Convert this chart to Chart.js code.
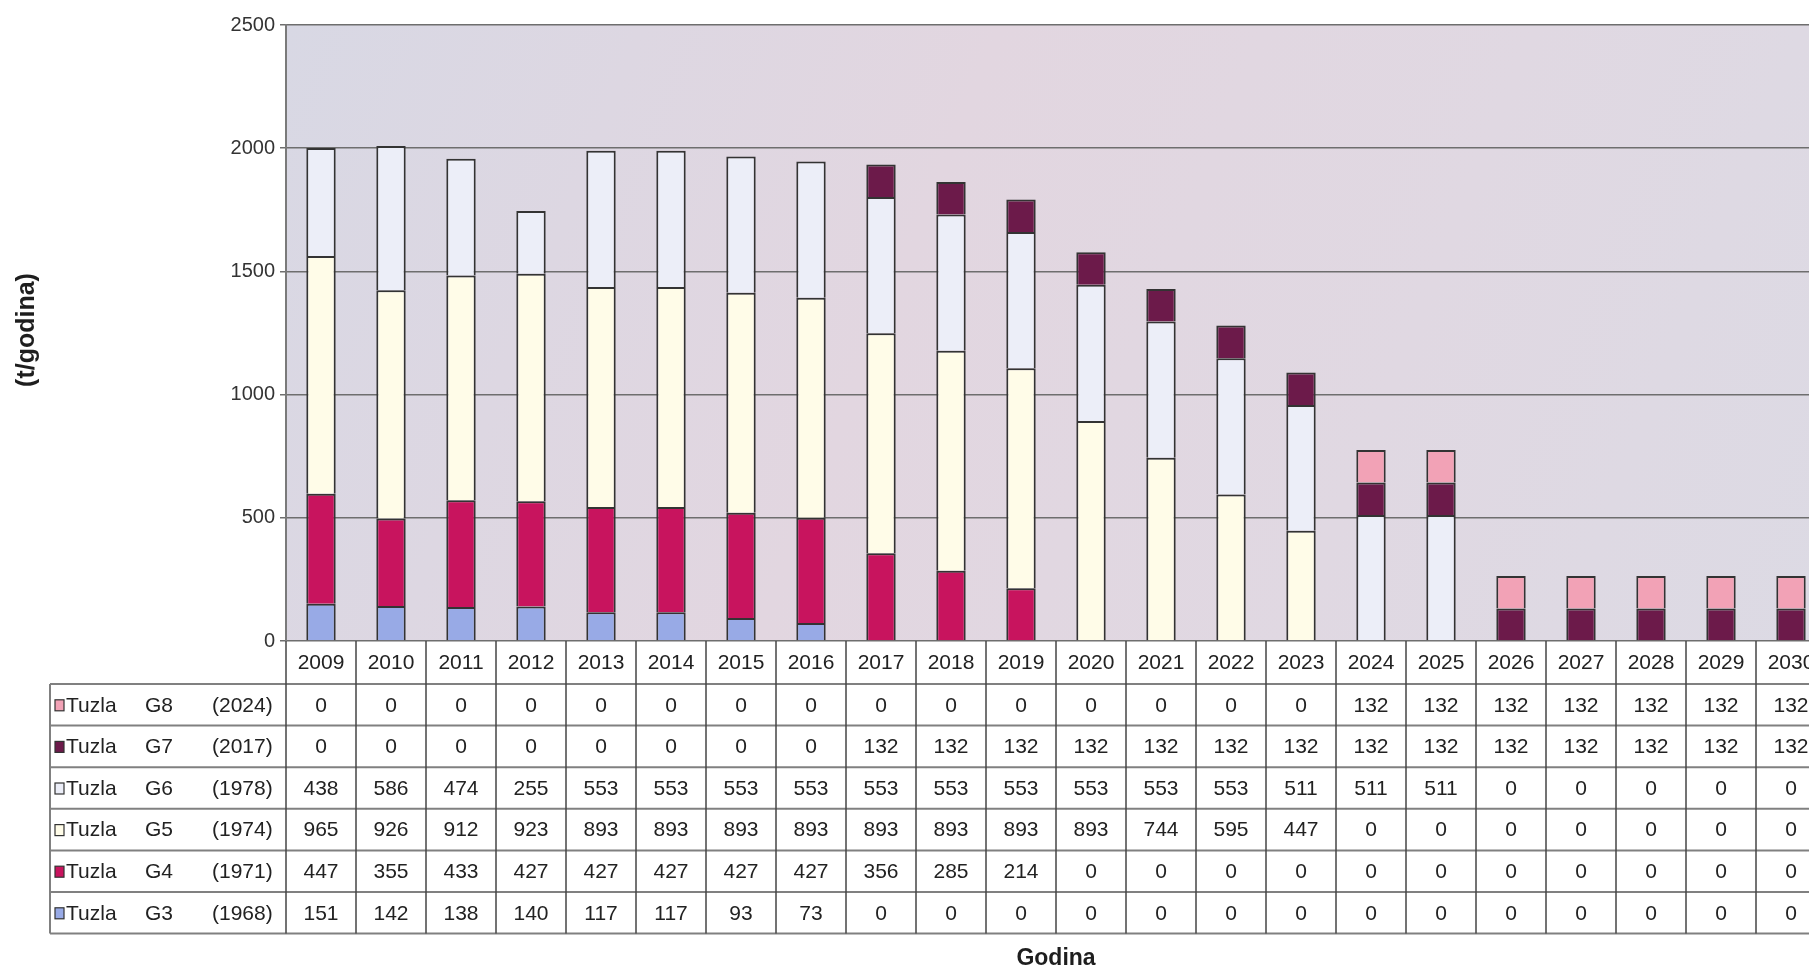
<!DOCTYPE html>
<html>
<head>
<meta charset="utf-8">
<title>Tuzla G3 - G8</title>
<script src="https://cdn.jsdelivr.net/npm/chart.js@4.4.1/dist/chart.umd.min.js"></script>
<style>
    html, body { margin: 0; padding: 0; background: #fff; overflow: hidden; }
    #wrap { width: 1840px; height: 971px; }
</style>
</head>
<body>
<div id="wrap"><canvas id="chart" width="1840" height="971"></canvas></div>
<script>
const years = ['2009', '2010', '2011', '2012', '2013', '2014', '2015', '2016', '2017', '2018', '2019',
               '2020', '2021', '2022', '2023', '2024', '2025', '2026', '2027', '2028', '2029', '2030'];

// t/godina po bloku
const g3 = [151, 142, 138, 140, 117, 117, 93, 73, 0, 0, 0, 0, 0, 0, 0, 0, 0, 0, 0, 0, 0, 0];
const g4 = [447, 355, 433, 427, 427, 427, 427, 427, 356, 285, 214, 0, 0, 0, 0, 0, 0, 0, 0, 0, 0, 0];
const g5 = [965, 926, 912, 923, 893, 893, 893, 893, 893, 893, 893, 893, 744, 595, 447, 0, 0, 0, 0, 0, 0, 0];
const g6 = [438, 586, 474, 255, 553, 553, 553, 553, 553, 553, 553, 553, 553, 553, 511, 511, 511, 0, 0, 0, 0, 0];
const g7 = [0, 0, 0, 0, 0, 0, 0, 0, 132, 132, 132, 132, 132, 132, 132, 132, 132, 132, 132, 132, 132, 132];
const g8 = [0, 0, 0, 0, 0, 0, 0, 0, 0, 0, 0, 0, 0, 0, 0, 132, 132, 132, 132, 132, 132, 132];

const unitNames = ['G3', 'G4', 'G5', 'G6', 'G7', 'G8'];
const unitYears = ['(1968)', '(1971)', '(1974)', '(1978)', '(2017)', '(2024)'];
const unitColors = ['#98aae6', '#c8145e', '#fffce8', '#eceef8', '#6c1a4a', '#f2a2b6'];
const yTicks = [0, 500, 1000, 1500, 2000, 2500];

const series = [g3, g4, g5, g6, g7, g8];

const FONT = '"Liberation Sans", Arial, sans-serif';

const tablePlugin = {
    id: 'dataTable',
    beforeDraw(chart) {
        const ctx = chart.ctx;
        const a = chart.chartArea;
        const grad = ctx.createLinearGradient(a.left, a.top, a.right, a.bottom);
        grad.addColorStop(0, '#d8d8e4');
        grad.addColorStop(0.4, '#e2d6e0');
        grad.addColorStop(0.7, '#e0d8e2');
        grad.addColorStop(1, '#dcdae4');
        ctx.save();
        ctx.fillStyle = grad;
        ctx.fillRect(a.left, a.top, a.right - a.left, a.bottom - a.top);
        ctx.restore();
    },
    afterDraw(chart) {
        const ctx = chart.ctx;
        const a = chart.chartArea;
        const x = chart.scales.x;
        const colW = (a.right - a.left) / years.length;
        const tableTop = 684;
        const rowH = 41.6;
        const tableBottom = tableTop + rowH * series.length;
        const legendLeft = 50;

        ctx.save();

        // horizontalne linije tabele
        ctx.strokeStyle = '#808080';
        ctx.lineWidth = 2;
        for (let r = 0; r <= series.length; r++) {
            const y = tableTop + r * rowH;
            ctx.beginPath();
            ctx.moveTo(legendLeft, y);
            ctx.lineTo(a.right, y);
            ctx.stroke();
        }
        ctx.beginPath();
        ctx.moveTo(legendLeft, tableTop);
        ctx.lineTo(legendLeft, tableBottom);
        ctx.stroke();

        // vertikalne linije
        ctx.strokeStyle = '#444';
        ctx.lineWidth = 1.5;
        for (let i = 0; i <= years.length; i++) {
            const lx = a.left + i * colW;
            ctx.beginPath();
            ctx.moveTo(lx, a.bottom);
            ctx.lineTo(lx, tableBottom);
            ctx.stroke();
        }

        // godine
        ctx.fillStyle = '#222';
        ctx.font = '21px ' + FONT;
        ctx.textAlign = 'center';
        ctx.textBaseline = 'middle';
        years.forEach((yr, i) => {
            ctx.fillText(yr, x.getPixelForValue(i), (a.bottom + tableTop) / 2 + 1);
        });

        // redovi: G8 na vrhu, G3 na dnu
        for (let r = 0; r < series.length; r++) {
            const k = series.length - 1 - r;
            const cy = tableTop + r * rowH + rowH / 2 + 1;

            ctx.fillStyle = unitColors[k];
            ctx.fillRect(55, cy - 6, 9, 11);
            ctx.strokeStyle = '#333';
            ctx.lineWidth = 1.2;
            ctx.strokeRect(55, cy - 6, 9, 11);

            ctx.fillStyle = '#222';
            ctx.textAlign = 'left';
            ctx.fillText('Tuzla', 66, cy);
            ctx.fillText(unitNames[k], 145, cy);
            ctx.fillText(unitYears[k], 212, cy);

            ctx.textAlign = 'center';
            series[k].forEach((v, i) => {
                ctx.fillText(String(v), x.getPixelForValue(i), cy);
            });
        }

        // nazivi osa
        ctx.fillStyle = '#1e1e1e';
        ctx.font = 'bold 23px ' + FONT;
        ctx.textAlign = 'center';
        ctx.fillText('Godina', (a.left + a.right) / 2, 959);

        ctx.translate(27, (a.top + a.bottom) / 2 - 3);
        ctx.rotate(-Math.PI / 2);
        ctx.font = 'bold 25px ' + FONT;
        ctx.fillText('(t/godina)', 0, 0);

        ctx.restore();
    }
};

const datasets = series.map((data, k) => ({
    label: 'Tuzla ' + unitNames[k] + ' ' + unitYears[k],
    data: data,
    backgroundColor: unitColors[k],
    borderColor: '#333',
    borderWidth: 2,
    borderSkipped: 'start',
    categoryPercentage: 1,
    barPercentage: 0.42
}));

new Chart(document.getElementById('chart').getContext('2d'), {
    type: 'bar',
    data: { labels: years, datasets: datasets },
    options: {
        responsive: false,
        animation: false,
        layout: { padding: { top: 25, right: 14, bottom: 330, left: 0 } },
        plugins: {
            legend: { display: false },
            tooltip: { enabled: false }
        },
        scales: {
            x: {
                stacked: true,
                display: false
            },
            y: {
                stacked: true,
                min: 0,
                max: 2500,
                afterBuildTicks: scale => { scale.ticks = yTicks.map(v => ({ value: v })); },
                afterFit: scale => { scale.width = 286; },
                ticks: {
                    color: '#333',
                    padding: 5,
                    font: { family: FONT, size: 20 },
                    callback: v => String(v)
                },
                grid: {
                    color: '#6e6e6e',
                    lineWidth: 1.5,
                    tickLength: 6
                },
                border: { display: true, color: '#7a7a7a', width: 2 }
            }
        }
    },
    plugins: [tablePlugin]
});
</script>
</body>
</html>
